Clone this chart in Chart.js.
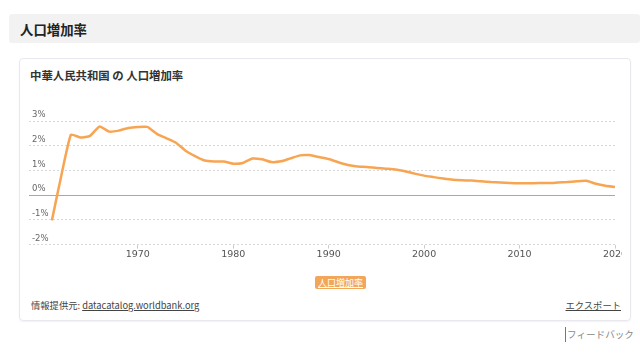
<!DOCTYPE html>
<html lang="ja">
<head>
<meta charset="utf-8">
<script src="https://cdn.jsdelivr.net/npm/chart.js@4"></script>
<style>
body { margin: 0; background: #fff; font-family: "Noto Sans CJK JP", "Noto Sans", sans-serif; width: 640px; height: 355px; overflow: hidden; position: relative; }
.band { position: absolute; left: 9px; top: 14px; width: 631px; height: 29px; background: #f2f2f2; border-radius: 3px; }
.band h1 { margin: 0; position: absolute; left: 11px; top: 6px; font-size: 13.4px; line-height: 18px; font-weight: bold; color: #222; white-space: nowrap; }
.card { position: absolute; left: 19px; top: 58px; width: 610px; height: 261px; border: 1px solid #e8e8ee; border-radius: 4px; box-shadow: 0 1px 2px rgba(0,0,0,0.05); }
.card h2 { margin: 0; position: absolute; left: 10px; top: 8px; font-size: 11.4px; line-height: 16px; font-weight: bold; color: #333; white-space: nowrap; }
#wrap { position: absolute; left: 20px; top: 100px; width: 602px; height: 162px; }
.legend { position: absolute; left: 315px; top: 276px; width: 51px; height: 13px; background: #f2a65a; border-radius: 2px; color: #fff; font-size: 9px; line-height: 13px; text-align: center; text-decoration: underline; white-space: nowrap; }
.src { position: absolute; left: 31px; top: 298px; font-size: 9.3px; line-height: 15px; color: #444; white-space: nowrap; }
.src a { color: #444; text-decoration: underline; }
.exp { position: absolute; right: 19px; top: 298px; font-size: 9.3px; line-height: 15px; color: #444; text-decoration: underline; white-space: nowrap; }
.fb { position: absolute; left: 565px; top: 327px; font-size: 9.6px; line-height: 15px; color: #888; border-left: 1px solid #777; padding-left: 1px; white-space: nowrap; }
</style>
</head>
<body>
<div class="band"><h1>人口増加率</h1></div>
<div class="card"><h2>中華人民共和国 の 人口増加率</h2></div>
<div id="wrap"><canvas id="mycanvas" width="602" height="162"></canvas></div>
<div class="legend">人口増加率</div>
<div class="src">情報提供元: <a>datacatalog.worldbank.org</a></div>
<div class="exp">エクスポート</div>
<div class="fb">フィードバック</div>
<script>
// 1961 - 2020, % per year
var years = [];
for (var y = 1961; y <= 2020; y++) years.push(y);
var growth = [
	-1.02, 0.82, 2.45, 2.33, 2.40, 2.78, 2.57, 2.61, 2.72, 2.76,
	2.76, 2.48, 2.30, 2.12, 1.80, 1.58, 1.40, 1.36, 1.36, 1.27,
	1.30, 1.48, 1.45, 1.34, 1.37, 1.49, 1.61, 1.62, 1.54, 1.46,
	1.33, 1.22, 1.16, 1.14, 1.10, 1.07, 1.04, 0.97, 0.87, 0.79,
	0.73, 0.67, 0.62, 0.60, 0.59, 0.56, 0.53, 0.51, 0.49, 0.48,
	0.48, 0.49, 0.49, 0.51, 0.53, 0.56, 0.58, 0.46, 0.38, 0.33
];
var xTicks = [1970, 1980, 1990, 2000, 2010, 2020];
var yTicks = [-2, -1, 0, 1, 2, 3];
var seriesName = '人口増加率';

var points = [];
for (var i in years) {
	points.push({x: years[i], y: growth[i]});
}

function noPad(scale) {
	scale.paddingLeft = 0;
	scale.paddingRight = 0;
	scale.paddingTop = 0;
	scale.paddingBottom = 0;
}

// solid zero line over the dotted grid
var zeroLine = {
	id: 'zeroLine',
	beforeDatasetsDraw: function(chart) {
		var ctx = chart.ctx, a = chart.chartArea;
		var yy = Math.round(chart.scales.y.getPixelForValue(0)) + 0.5;
		ctx.save();
		ctx.strokeStyle = '#a8a8a8';
		ctx.lineWidth = 1;
		ctx.beginPath();
		ctx.moveTo(a.left, yy);
		ctx.lineTo(a.right, yy);
		ctx.stroke();
		ctx.restore();
	}
};

var ctx = document.getElementById('mycanvas');
var lineGraph = new Chart(ctx, {
	type: 'line',
	data: {
		datasets: [{
			label: seriesName,
			data: points,
			borderColor: '#f7a553',
			borderWidth: 2.5,
			pointRadius: 0,
			tension: 0.15,
			fill: false
		}]
	},
	options: {
		responsive: false,
		animation: false,
		layout: { padding: { left: 3, right: 7, top: 21, bottom: 2 } },
		plugins: { legend: { display: false }, tooltip: { enabled: false } },
		scales: {
			x: {
				type: 'linear',
				min: 1958.6,
				max: 2020,
				afterBuildTicks: function(s) { s.ticks = xTicks.map(function(v) { return {value: v}; }); },
				afterFit: noPad,
				grid: { drawOnChartArea: false, drawTicks: true, tickLength: 4, tickColor: '#ccc' },
				border: { display: false },
				ticks: {
					padding: 0,
					color: '#555',
					font: { family: 'DejaVu Sans', size: 9.5 },
					callback: function(v) { return String(v); }
				}
			},
			y: {
				min: -2,
				max: 3,
				afterBuildTicks: function(s) { s.ticks = yTicks.map(function(v) { return {value: v}; }); },
				afterFit: noPad,
				grid: {
					drawTicks: false,
					color: function(c) { return c.tick && c.tick.value === 0 ? 'rgba(0,0,0,0)' : '#d8d8d8'; }
				},
				border: { display: false, dash: [2, 2] },
				ticks: {
					mirror: true,
					padding: 3,
					labelOffset: -6,
					color: '#666',
					font: { family: 'DejaVu Sans', size: 8.5 },
					callback: function(v) { return v + '%'; }
				}
			}
		}
	},
	plugins: [zeroLine]
});
</script>
</body>
</html>
